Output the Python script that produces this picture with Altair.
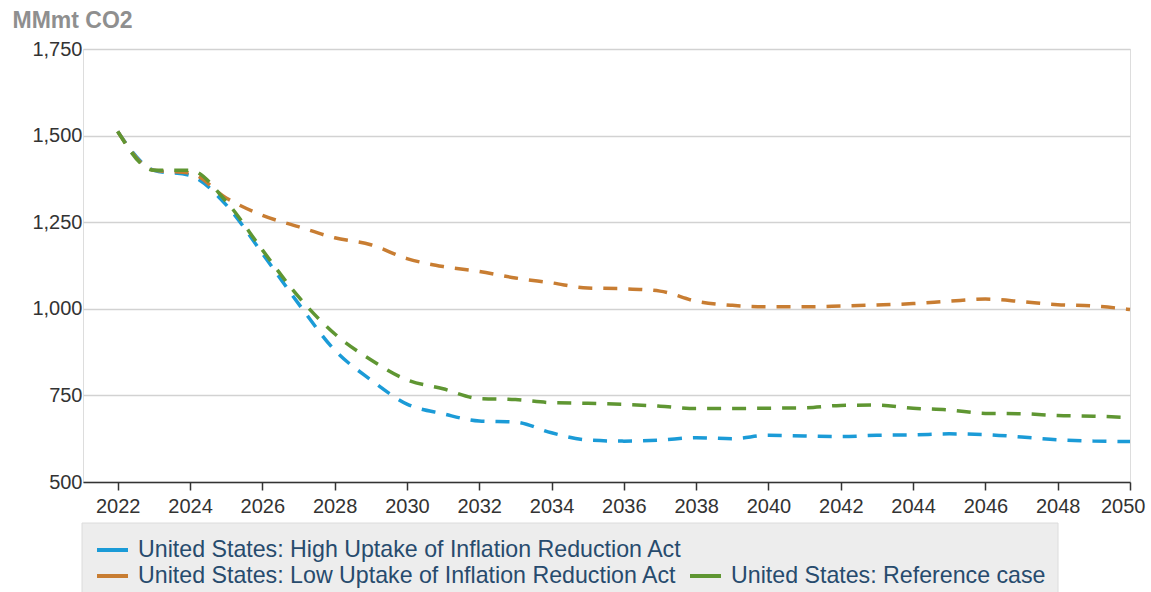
import altair as alt
import pandas as pd

years = list(range(2022, 2051))

series_names = [
    "United States: High Uptake of Inflation Reduction Act",
    "United States: Low Uptake of Inflation Reduction Act",
    "United States: Reference case",
]
series_colors = ["#1b9bd7", "#c87d32", "#5f9632"]

high_uptake = [1512, 1400, 1385, 1300, 1160, 1015, 881, 795, 725, 697,
               676, 673, 642, 621, 618, 621, 628, 625, 635, 633,
               631, 635, 636, 639, 637, 630, 622, 618, 617]
low_uptake = [1512, 1400, 1392, 1320, 1270, 1237, 1205, 1185, 1145, 1122,
              1108, 1089, 1075, 1060, 1058, 1051, 1022, 1010, 1006, 1006,
              1008, 1011, 1015, 1022, 1028, 1021, 1012, 1008, 998]
reference = [1512, 1400, 1400, 1310, 1170, 1035, 928, 853, 795, 769,
             741, 738, 729, 727, 724, 719, 712, 712, 713, 714,
             721, 722, 713, 708, 698, 697, 692, 690, 686]

y_ticks = [500, 750, 1000, 1250, 1500, 1750]
x_ticks = list(range(2022, 2051, 2))

rows = []
for name, vals in zip(series_names, [high_uptake, low_uptake, reference]):
    for yr, v in zip(years, vals):
        rows.append({"year": yr, "value": v, "series": name})
df = pd.DataFrame(rows)

FONT = "Liberation Sans"

lines = alt.Chart(df).mark_line(
    strokeWidth=3.5, strokeDash=[14, 11], interpolate="monotone"
).encode(
    x=alt.X("year:Q",
            scale=alt.Scale(domain=[2021.04, 2050], nice=False, zero=False),
            axis=alt.Axis(values=x_ticks, format="d", title=None, grid=False,
                          domainColor="#333333", domainWidth=1.5,
                          tickColor="#333333", tickWidth=1.5, tickSize=8,
                          labelFontSize=20, labelColor="#333333", labelFont=FONT,
                          labelPadding=6, labelFlush=True, labelFlushOffset=15,
                          labelOverlap=False)),
    y=alt.Y("value:Q",
            scale=alt.Scale(domain=[500, 1750], nice=False, zero=False),
            axis=alt.Axis(values=y_ticks, format=",.0f", title="MMmt CO2",
                          titleAngle=0, titleAlign="left", titleBaseline="top",
                          titleX=-71, titleY=-40, titleFontSize=23,
                          titleFontWeight="bold", titleColor="#8f8f8f", titleFont=FONT,
                          domain=False, ticks=False,
                          gridColor="#d2d2d2", gridWidth=1.5,
                          labelFontSize=20, labelColor="#333333", labelFont=FONT,
                          labelPadding=1)),
    color=alt.Color("series:N",
                    scale=alt.Scale(domain=series_names, range=series_colors),
                    legend=None),
)

# custom legend (Highcharts-like wrapping)
legend_bg = alt.Chart(pd.DataFrame({"a": [0]})).mark_rect(
    fill="#ededed", stroke="#dcdcdc", strokeWidth=1
).encode(x=alt.value(-1), x2=alt.value(975), y=alt.value(474), y2=alt.value(560))

legend_items = [
    (series_names[0], series_colors[0], 14, 501),
    (series_names[1], series_colors[1], 14, 527),
    (series_names[2], series_colors[2], 607, 527),
]
legend_layers = [legend_bg]
for name, color, lx, ly in legend_items:
    d = pd.DataFrame({"label": [name]})
    legend_layers.append(
        alt.Chart(d).mark_rule(strokeWidth=4, color=color).encode(
            x=alt.value(lx), x2=alt.value(lx + 31), y=alt.value(ly))
    )
    legend_layers.append(
        alt.Chart(d).mark_text(align="left", baseline="middle", fontSize=23.2,
                               font=FONT, color="#274b6d").encode(
            text="label:N", x=alt.value(lx + 41), y=alt.value(ly))
    )

chart = alt.layer(lines, *legend_layers).properties(
    width=1047, height=433,
    autosize=alt.AutoSizeParams(type="none"),
    padding={"left": 83, "top": 49, "right": 21, "bottom": 110},
).configure_view(stroke=None).configure(background="white")

chart.save("out.html", embed_options={"renderer": "svg", "actions": False})
